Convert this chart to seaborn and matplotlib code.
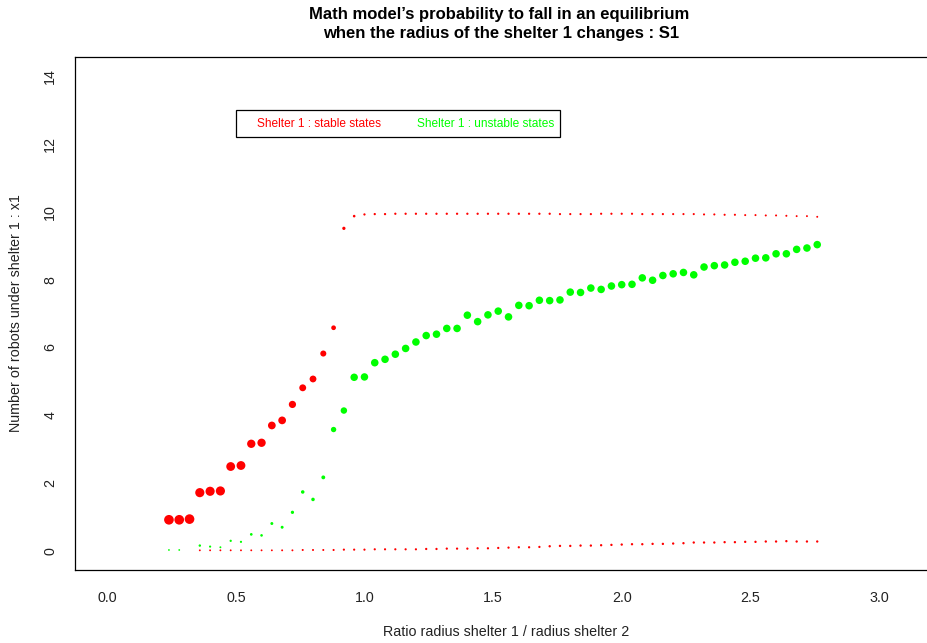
import numpy as np
import pandas as pd
import matplotlib
matplotlib.use("Agg")
import matplotlib.pyplot as plt
import seaborn as sns
from matplotlib.patches import Rectangle

# ---------------- data ----------------
ratio = [0.24, 0.28, 0.32, 0.36, 0.40, 0.44, 0.48, 0.52, 0.56, 0.60, 0.64, 0.68,
         0.72, 0.76, 0.80, 0.84, 0.88, 0.92, 0.96, 1.00, 1.04, 1.08, 1.12, 1.16,
         1.20, 1.24, 1.28, 1.32, 1.36, 1.40, 1.44, 1.48, 1.52, 1.56, 1.60, 1.64,
         1.68, 1.72, 1.76, 1.80, 1.84, 1.88, 1.92, 1.96, 2.00, 2.04, 2.08, 2.12,
         2.16, 2.20, 2.24, 2.28, 2.32, 2.36, 2.40, 2.44, 2.48, 2.52, 2.56, 2.60,
         2.64, 2.68, 2.72, 2.76]

stable_high = [0.92, 0.92, 0.94, 1.72, 1.76, 1.77, 2.49, 2.52, 3.16, 3.19, 3.70, 3.85,
               4.32, 4.81, 5.07, 5.82, 6.58, 9.51, 9.87,
               9.92, 9.93, 9.93, 9.94, 9.94, 9.94, 9.94, 9.94, 9.94, 9.94, 9.94, 9.94,
               9.94, 9.94, 9.94, 9.94, 9.94, 9.94, 9.94, 9.93, 9.93, 9.93, 9.93,
               9.94, 9.94, 9.94, 9.94, 9.93, 9.93, 9.93, 9.93, 9.93, 9.93, 9.92, 9.92,
               9.91, 9.91, 9.90, 9.90, 9.89, 9.89, 9.88, 9.87, 9.87, 9.85]
stable_high_prob = [0.96, 0.96, 0.96, 0.90, 0.90, 0.90, 0.86, 0.86, 0.80, 0.80, 0.73, 0.73,
                    0.67, 0.63, 0.62, 0.53, 0.37, 0.20, 0.12,
                    0.08, 0.08, 0.08, 0.08, 0.08, 0.08, 0.08, 0.08, 0.08, 0.08, 0.08, 0.08,
                    0.08, 0.08, 0.08, 0.08, 0.08, 0.08, 0.08, 0.07, 0.07, 0.07, 0.07,
                    0.07, 0.07, 0.07, 0.07, 0.07, 0.07, 0.07, 0.06, 0.06, 0.06, 0.06, 0.06,
                    0.06, 0.06, 0.05, 0.05, 0.05, 0.05, 0.05, 0.04, 0.04, 0.04]

unstable = [0.03, 0.03, np.nan, 0.16, 0.13, 0.11, 0.30, 0.27, 0.49, 0.46, 0.81, 0.70,
            1.14, 1.74, 1.52, 2.17, 3.58, 4.14, 5.12,
            5.13, 5.55, 5.65, 5.80, 5.97, 6.16, 6.35, 6.39, 6.56, 6.56, 6.95, 6.76,
            6.96, 7.07, 6.90, 7.24, 7.23, 7.39, 7.38, 7.40, 7.63, 7.62, 7.75,
            7.71, 7.81, 7.85, 7.86, 8.05, 7.98, 8.12, 8.17, 8.21, 8.14, 8.37, 8.41,
            8.43, 8.51, 8.54, 8.63, 8.64, 8.76, 8.76, 8.89, 8.93, 9.03]
unstable_prob = [0.02, 0.02, np.nan, 0.10, 0.07, 0.04, 0.08, 0.07, 0.13, 0.12, 0.16, 0.16,
                 0.20, 0.23, 0.23, 0.27, 0.45, 0.58, 0.70,
                 0.70, 0.71, 0.71, 0.71, 0.71, 0.71, 0.71, 0.71, 0.71, 0.71, 0.71, 0.71,
                 0.71, 0.71, 0.71, 0.71, 0.71, 0.71, 0.71, 0.71, 0.71, 0.71, 0.71,
                 0.71, 0.71, 0.71, 0.71, 0.71, 0.71, 0.71, 0.71, 0.71, 0.71, 0.71, 0.71,
                 0.71, 0.71, 0.71, 0.71, 0.71, 0.71, 0.71, 0.71, 0.71, 0.71]

stable_low = [np.nan, np.nan, np.nan,
              0.02, 0.02, 0.02, 0.02, 0.02, 0.02, 0.02, 0.02, 0.02, 0.02, 0.03, 0.03, 0.03, 0.03,
              0.04, 0.04, 0.04, 0.05, 0.05, 0.05, 0.05, 0.05, 0.06, 0.06, 0.07, 0.07, 0.07,
              0.08, 0.08, 0.09, 0.10, 0.11, 0.11, 0.12, 0.14, 0.15, 0.15, 0.16, 0.16, 0.17, 0.18,
              0.19, 0.20, 0.20, 0.21, 0.21, 0.22, 0.23, 0.25, 0.25, 0.25, 0.26, 0.26, 0.27,
              0.27, 0.28, 0.28, 0.29, 0.28, 0.28, 0.28]
stable_low_prob = [np.nan, np.nan, np.nan,
                   0.03, 0.03, 0.03, 0.03, 0.03, 0.03, 0.03, 0.03, 0.04, 0.04, 0.05, 0.05, 0.05, 0.06,
                   0.07, 0.07, 0.07, 0.07, 0.07, 0.07, 0.07, 0.07, 0.08, 0.08, 0.08, 0.08, 0.08,
                   0.08, 0.08, 0.08, 0.08, 0.08, 0.08, 0.08, 0.09, 0.09, 0.09, 0.09, 0.09, 0.09, 0.09,
                   0.09, 0.09, 0.09, 0.09, 0.09, 0.09, 0.09, 0.09, 0.09, 0.09, 0.09, 0.09, 0.09,
                   0.09, 0.09, 0.09, 0.09, 0.09, 0.09, 0.09]

x_ticks = [0.0, 0.5, 1.0, 1.5, 2.0, 2.5, 3.0]
y_ticks = [0, 2, 4, 6, 8, 10, 12, 14]
title_lines = ["Math model\u2019s probability to fall in an equilibrium",
               "when the radius of the shelter 1 changes : S1"]
x_label = "Ratio radius shelter 1 / radius shelter 2"
y_label = "Number of robots under shelter 1 : x1"
legend_labels = ["Shelter 1 : stable states", "Shelter 1 : unstable states"]

RED = "#FF0000"
GREEN = "#00FF00"

# ---------------- style ----------------
sns.set_style("white")
plt.rcParams["font.family"] = ["Liberation Sans", "DejaVu Sans"]

W, H = 928, 643
fig = plt.figure(figsize=(W / 100, H / 100), dpi=100)
fig.patch.set_facecolor("white")

def fx(px):
    return px / W

def fy(py):
    return 1 - py / H

ax_left, ax_right, ax_top, ax_bottom = 75.3, 936.6, 57.0, 570.0
ax = fig.add_axes([fx(ax_left), fy(ax_bottom), (ax_right - ax_left) / W, (ax_bottom - ax_top) / H])
ax.set_facecolor("white")


def sizes_from_prob(p):
    p = np.asarray(p, dtype=float)
    d_px = 1.6 + 8.4 * p
    return (d_px * 0.72) ** 2


def draw(yvals, probs, color):
    df = pd.DataFrame({"ratio": ratio, "y": yvals, "p": probs}).dropna()
    sns.scatterplot(data=df, x="ratio", y="y", ax=ax, color=color,
                    s=sizes_from_prob(df["p"].values), linewidth=0,
                    edgecolor="none", legend=False, zorder=3)


draw(stable_low, stable_low_prob, RED)
draw(unstable, unstable_prob, GREEN)
draw(stable_high, stable_high_prob, RED)

ax.set_xlim(-0.124, 3.224)
ax.set_ylim(-0.56, 14.56)
ax.set_xticks(x_ticks)
ax.set_xticklabels([f"{v:.1f}" for v in x_ticks])
ax.set_yticks(y_ticks)
ax.set_yticklabels([str(v) for v in y_ticks], rotation=90, va="center")
ax.tick_params(axis="both", direction="out", length=5, width=0.75, color="black",
               labelsize=10.3, labelcolor="#222222")
ax.tick_params(axis="x", pad=10)
ax.tick_params(axis="y", pad=8)
ax.set_xlabel("")
ax.set_ylabel("")
for sp in ax.spines.values():
    sp.set_visible(True)
    sp.set_color("black")
    sp.set_linewidth(0.9)

# axis labels
fig.text(fx(506), fy(632), x_label, ha="center", va="center", fontsize=10.3, color="#222222")
fig.text(fx(16), fy(313.5), y_label, ha="center", va="center", rotation=90,
         fontsize=10.3, color="#222222")

# title
fig.text(fx(499), fy(18.5), title_lines[0], ha="center", va="baseline",
         fontsize=12, fontweight="bold", color="black")
fig.text(fx(501), fy(38), title_lines[1], ha="center", va="baseline",
         fontsize=12, fontweight="bold", color="black")

# legend box
rect = Rectangle((fx(236), fy(137.3)), fx(560) - fx(236), fy(110) - fy(137.3),
                 transform=fig.transFigure, facecolor="white", edgecolor="black",
                 linewidth=0.9, zorder=5)
fig.patches.append(rect)
fig.text(fx(257.3), fy(124), legend_labels[0], ha="left", va="center",
         fontsize=8.6, color=RED, zorder=6)
fig.text(fx(416.7), fy(124), legend_labels[1], ha="left", va="center",
         fontsize=8.6, color=GREEN, zorder=6)

fig.savefig("out.png", dpi=100, facecolor="white")
